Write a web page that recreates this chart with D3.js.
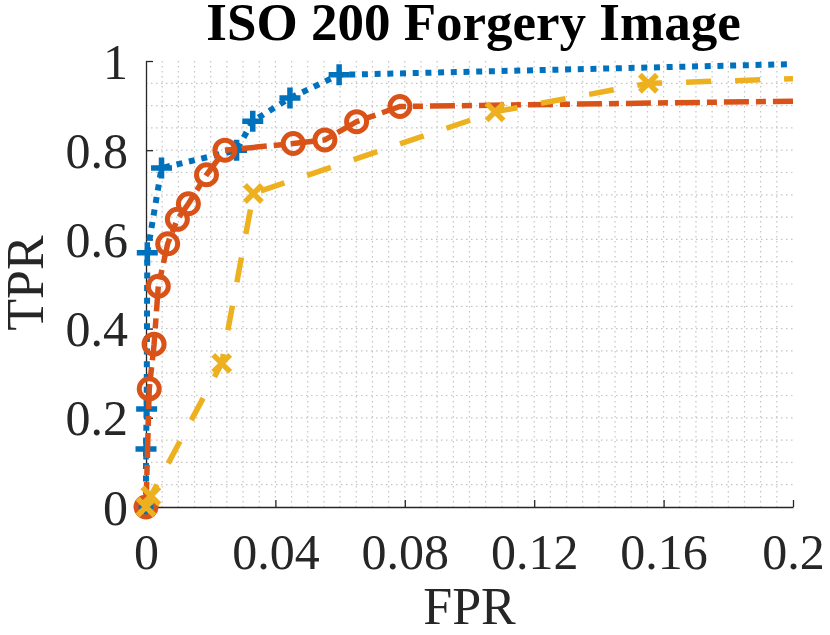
<!DOCTYPE html>
<html>
<head>
<meta charset="utf-8">
<script src="https://cdn.jsdelivr.net/npm/d3@7"></script>
<style>
  body { margin: 0; background: #fff; }
  text { font-family: "Liberation Serif", "Times New Roman", serif; fill: #262626; }
</style>
</head>
<body>
<div id="chart"></div>
<script>
// ROC curves
var blueFPR = [0, 0, 0.0002, 0.0004, 0.0048, 0.028, 0.033, 0.0445, 0.0597, 0.2];
var blueTPR = [0, 0.13, 0.22, 0.57, 0.76, 0.80, 0.865, 0.917, 0.969, 0.993];

var orangeFPR = [0, 0.001, 0.0025, 0.0038, 0.0067, 0.0097, 0.0131, 0.0187, 0.0244, 0.0455, 0.0553, 0.0651, 0.0785, 0.2];
var orangeTPR = [0, 0.265, 0.365, 0.495, 0.59, 0.645, 0.68, 0.745, 0.80, 0.815, 0.823, 0.864, 0.898, 0.91];

var yellowFPR = [0, 0.0015, 0.0234, 0.0332, 0.1079, 0.1553, 0.2];
var yellowTPR = [0, 0.025, 0.322, 0.703, 0.886, 0.95, 0.96];

var xTicks = [0, 0.04, 0.08, 0.12, 0.16, 0.2];
var xTickLabels = ["0", "0.04", "0.08", "0.12", "0.16", "0.2"];
var yTicks = [0, 0.2, 0.4, 0.6, 0.8, 1];
var yTickLabels = ["0", "0.2", "0.4", "0.6", "0.8", "1"];

// set the dimensions and margins of the graph
var W = 830, H = 635;
var margin = { top: 61, right: 37, bottom: 128, left: 146 },
    width = W - margin.left - margin.right,
    height = H - margin.top - margin.bottom;

var svg = d3.select("#chart")
    .append("svg")
    .attr("width", W)
    .attr("height", H);

var g = svg.append("g")
    .attr("transform", "translate(" + margin.left + "," + margin.top + ")");

var x = d3.scaleLinear().domain([0, 0.2]).range([0, width]);
var y = d3.scaleLinear().domain([0, 1]).range([height, 0]);

// minor grid (dotted)
var gridX = d3.range(1, 40).map(function (i) { return i * 0.005; });
var gridY = d3.range(1, 20).map(function (i) { return i * 0.05; });

g.selectAll(".gx").data(gridX).enter().append("line")
    .attr("x1", function (d) { return x(d); })
    .attr("x2", function (d) { return x(d); })
    .attr("y1", 0).attr("y2", height)
    .attr("stroke", "#c4c4c4")
    .attr("stroke-width", 1.2)
    .attr("stroke-dasharray", "1.5 3.5");

g.selectAll(".gy").data(gridY).enter().append("line")
    .attr("y1", function (d) { return y(d); })
    .attr("y2", function (d) { return y(d); })
    .attr("x1", 0).attr("x2", width)
    .attr("stroke", "#c4c4c4")
    .attr("stroke-width", 1.2)
    .attr("stroke-dasharray", "1.5 3.5");

// axes
var xAxis = g.append("g")
    .attr("transform", "translate(0," + height + ")")
    .call(d3.axisBottom(x).tickValues(xTicks)
        .tickFormat(function (d, i) { return xTickLabels[i]; })
        .tickSizeInner(-7).tickSizeOuter(0).tickPadding(26));

var yAxis = g.append("g")
    .call(d3.axisLeft(y).tickValues(yTicks)
        .tickFormat(function (d, i) { return yTickLabels[i]; })
        .tickSizeInner(-7).tickSizeOuter(0).tickPadding(18));

[xAxis, yAxis].forEach(function (a) {
    a.select(".domain").attr("stroke", "#262626").attr("stroke-width", 1.3);
    a.selectAll(".tick line").attr("stroke", "#262626").attr("stroke-width", 1.3);
    a.selectAll(".tick text")
        .style("font-family", "'Liberation Serif', serif")
        .style("font-size", "50px")
        .attr("fill", "#262626");
});
xAxis.selectAll(".tick text").attr("dy", "0.71em");
yAxis.selectAll(".tick text").attr("dy", "0.34em");

// clip
svg.append("clipPath").attr("id", "clip")
    .append("rect").attr("x", -14).attr("y", -14)
    .attr("width", width + 14).attr("height", height + 28);

var line = d3.line()
    .x(function (d) { return x(d[0]); })
    .y(function (d) { return y(d[1]); });

var series = [
    { fpr: blueFPR, tpr: blueTPR, color: "#0072BD", width: 6, dash: "6 6.7", marker: "plus" },
    { fpr: orangeFPR, tpr: orangeTPR, color: "#D95319", width: 5.5, dash: "25 7 10 7", marker: "circle" },
    { fpr: yellowFPR, tpr: yellowTPR, color: "#EDB120", width: 5.5, dash: "25 24", marker: "cross" }
];

var plot = g.append("g").attr("clip-path", "url(#clip)");

series.forEach(function (s) {
    var pts = s.fpr.map(function (f, i) { return [f, s.tpr[i]]; });
    plot.append("path")
        .datum(pts)
        .attr("fill", "none")
        .attr("stroke", s.color)
        .attr("stroke-width", s.width)
        .attr("stroke-dasharray", s.dash)
        .attr("d", line);

    // markers on every point except the end of the curve at the axis edge
    var mk = pts.slice(0, pts.length - 1);
    var m = plot.selectAll(null).data(mk).enter().append("g")
        .attr("transform", function (d) { return "translate(" + x(d[0]) + "," + y(d[1]) + ")"; });
    if (s.marker === "circle") {
        m.append("circle").attr("r", 10)
            .attr("fill", "none").attr("stroke", s.color).attr("stroke-width", 5);
    } else if (s.marker === "plus") {
        m.append("path").attr("d", "M-10.5,0H10.5M0,-10.5V10.5")
            .attr("stroke", s.color).attr("stroke-width", 5.5);
    } else {
        m.append("path").attr("d", "M-8.5,-8.5L8.5,8.5M-8.5,8.5L8.5,-8.5")
            .attr("stroke", s.color).attr("stroke-width", 5.5);
    }
});

// title and labels
svg.append("text")
    .attr("x", margin.left + width / 2 + 4)
    .attr("y", 40)
    .attr("text-anchor", "middle")
    .style("font-size", "53px")
    .style("font-weight", "bold")
    .style("fill", "#000")
    .text("ISO 200 Forgery Image");

svg.append("text")
    .attr("x", margin.left + width / 2)
    .attr("y", 624)
    .attr("text-anchor", "middle")
    .style("font-size", "52px")
    .text("FPR");

svg.append("text")
    .attr("transform", "translate(43," + (margin.top + height / 2 - 1) + ") rotate(-90)")
    .attr("text-anchor", "middle")
    .style("font-size", "52px")
    .text("TPR");
</script>
</body>
</html>
